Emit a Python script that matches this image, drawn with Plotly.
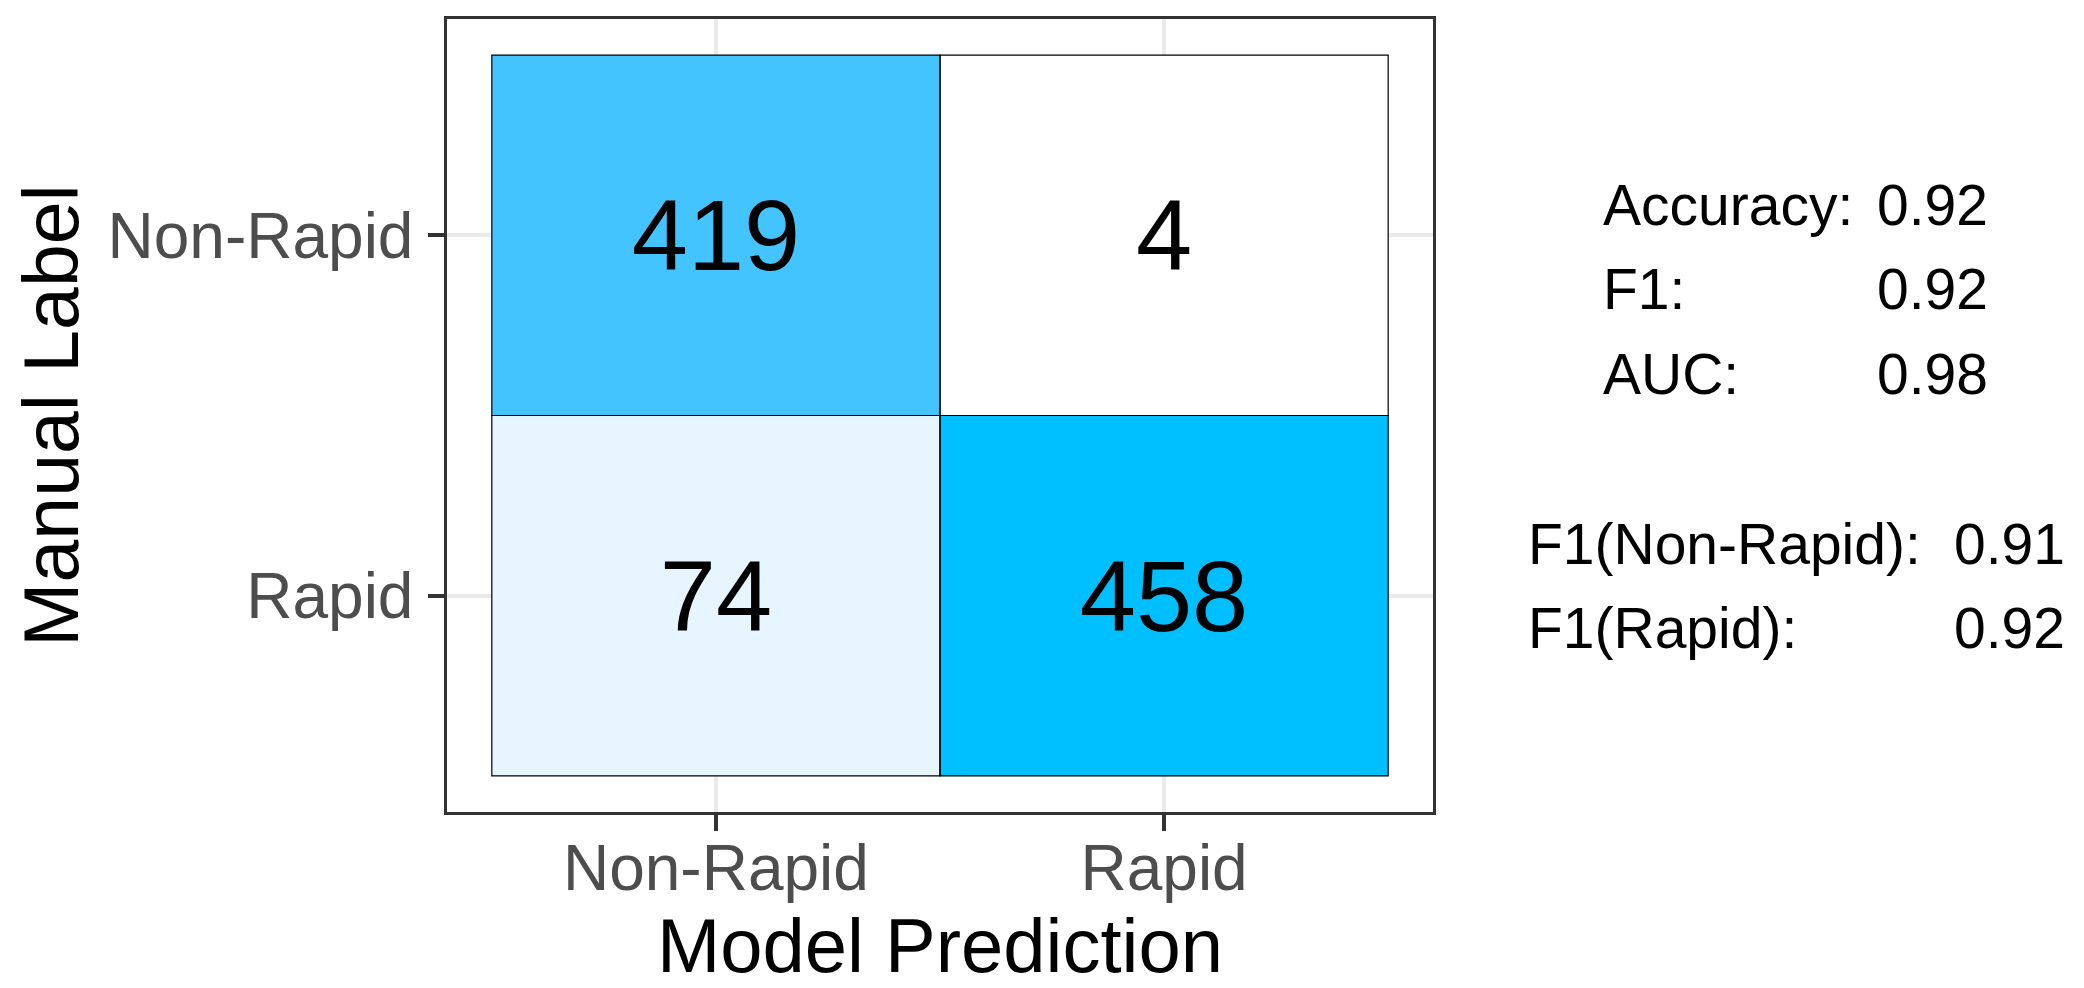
import numpy as np
import plotly.graph_objects as go

# confusion matrix: rows = manual label, columns = model prediction
pred_labels = ['Non-Rapid', 'Rapid']
true_labels = ['Non-Rapid', 'Rapid']
counts = [[419, 4],
          [74, 458]]

metric_names = ['Accuracy:', 'F1:', 'AUC:']
metric_values = ['0.92', '0.92', '0.98']
class_names = ['F1(Non-Rapid):', 'F1(Rapid):']
class_values = ['0.91', '0.92']

FONT = 'Liberation Sans, Arial, sans-serif'
# the page body adds an 8px margin, so the figure is drawn 8px smaller
OFF = 8
W, H = 2084 - OFF, 988 - OFF
ML, MT = 447 - OFF, 19 - OFF
MR, MB = W - (1433 - OFF), H - (812 - OFF)


def srgb_to_lab(rgb):
    c = np.array(rgb) / 255.0
    c = np.where(c <= 0.04045, c / 12.92, ((c + 0.055) / 1.055) ** 2.4)
    m = np.array([[0.4124, 0.3576, 0.1805], [0.2126, 0.7152, 0.0722], [0.0193, 0.1192, 0.9505]])
    xyz = m @ c / np.array([0.95047, 1.0, 1.08883])
    f = np.where(xyz > (6 / 29) ** 3, np.cbrt(xyz), xyz / (3 * (6 / 29) ** 2) + 4 / 29)
    return np.array([116 * f[1] - 16, 500 * (f[0] - f[1]), 200 * (f[1] - f[2])])


def lab_to_srgb(lab):
    L, a, b = lab
    fy = (L + 16) / 116
    f = np.array([fy + a / 500, fy, fy - b / 200])
    xyz = np.where(f > 6 / 29, f ** 3, 3 * (6 / 29) ** 2 * (f - 4 / 29)) * np.array([0.95047, 1.0, 1.08883])
    m = np.array([[3.2406, -1.5372, -0.4986], [-0.9689, 1.8758, 0.0415], [0.0557, -0.2040, 1.0570]])
    c = np.clip(m @ xyz, 0, 1)
    c = np.where(c <= 0.0031308, 12.92 * c, 1.055 * c ** (1 / 2.4) - 0.055)
    r, g, bb = np.round(c * 255).astype(int)
    return 'rgb(%d,%d,%d)' % (r, g, bb)


# white -> deepskyblue gradient, interpolated in Lab like ggplot
lo, hi = srgb_to_lab((255, 255, 255)), srgb_to_lab((0, 191, 255))
colorscale = [[t, lab_to_srgb(lo + t * (hi - lo))] for t in np.linspace(0, 1, 21)]

fig = go.Figure(go.Heatmap(
    x=pred_labels, y=true_labels, z=counts,
    colorscale=colorscale, showscale=False,
    texttemplate='%{z}', textfont=dict(size=101, color='black', family=FONT),
    hoverinfo='skip'))

# tile outlines
for i in range(len(true_labels)):
    for j in range(len(pred_labels)):
        fig.add_shape(type='rect', xref='x', yref='y',
                      x0=j - 0.5, x1=j + 0.5, y0=i - 0.5, y1=i + 0.5,
                      line=dict(color='black', width=1.2), layer='above')


def px_x(px):
    # page pixel -> paper fraction
    return (px - OFF - ML) / (W - ML - MR)


def px_y(py):
    return (H - MB - (py - OFF)) / (H - MT - MB)


txt = dict(size=57, color='black', family=FONT)
for k, (n, v) in enumerate(zip(metric_names, metric_values)):
    yc = px_y(205 + 84.5 * k)
    fig.add_annotation(x=px_x(1601), y=yc, xref='paper', yref='paper', text=n,
                       showarrow=False, xanchor='left', yanchor='middle', font=txt)
    fig.add_annotation(x=px_x(1875), y=yc, xref='paper', yref='paper', text=v,
                       showarrow=False, xanchor='left', yanchor='middle', font=txt)
for k, (n, v) in enumerate(zip(class_names, class_values)):
    yc = px_y(544 + 84 * k)
    fig.add_annotation(x=px_x(1526), y=yc, xref='paper', yref='paper', text=n,
                       showarrow=False, xanchor='left', yanchor='middle', font=txt)
    fig.add_annotation(x=px_x(1952), y=yc, xref='paper', yref='paper', text=v,
                       showarrow=False, xanchor='left', yanchor='middle', font=txt)

axis_style = dict(
    type='category', showline=True, mirror=True, linecolor='#333333', linewidth=2.5,
    showgrid=True, gridcolor='#EBEBEB', gridwidth=4, zeroline=False,
    ticks='outside', ticklen=16, tickwidth=3.5, tickcolor='#333333',
    tickfont=dict(size=64, color='#4D4D4D', family=FONT), automargin=False,
)

fig.update_layout(
    width=W, height=H,
    margin=dict(l=ML, r=MR, t=MT, b=MB),
    paper_bgcolor='white', plot_bgcolor='white',
    font=dict(family=FONT),
    xaxis=dict(axis_style, range=[-0.6, 1.6], ticklabelstandoff=-18,
               title=dict(text='Model Prediction', font=dict(size=76, color='black'), standoff=9)),
    yaxis=dict(axis_style, range=[1.6, -0.6], ticklabelstandoff=2,
               title=dict(text='Manual Label', font=dict(size=77, color='black'), standoff=27)),
)

fig.write_html('out.html')
